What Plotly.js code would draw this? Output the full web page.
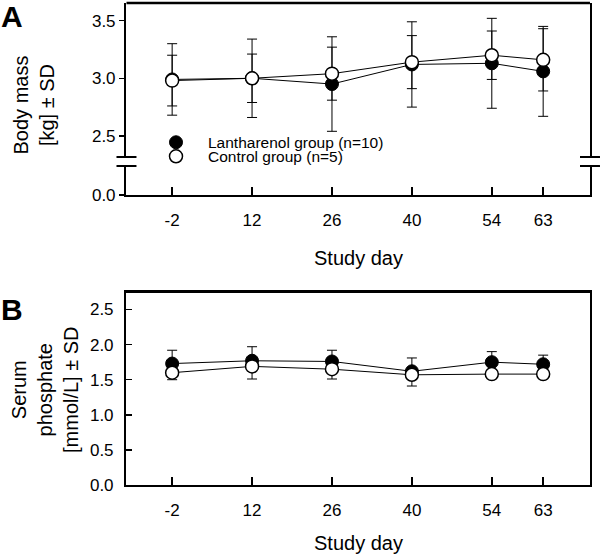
<!DOCTYPE html>
<html>
<head>
<meta charset="utf-8">
<script src="https://cdn.plot.ly/plotly-3.0.1.min.js"></script>
<style>html,body{margin:0;padding:0;background:#fff;}#chart{width:600px;height:556px;}</style>
</head>
<body>
<div id="chart"></div>
<script>
// ---- data ----
var days = [-2, 12, 26, 40, 54, 63];
var dayLabels = ["-2", "12", "26", "40", "54", "63"];

var massLan   = [2.99, 3.00, 2.95, 3.12, 3.13, 3.06];
var massLanSD = [0.31, 0.34, 0.41, 0.37, 0.39, 0.39];
var massCtl   = [2.98, 3.00, 3.04, 3.14, 3.20, 3.16];
var massCtlSD = [0.22, 0.21, 0.23, 0.23, 0.21, 0.27];

var phosLan   = [1.73, 1.77, 1.76, 1.62, 1.75, 1.72];
var phosLanSD = [0.19, 0.20, 0.16, 0.19, 0.15, 0.13];
var phosCtl   = [1.60, 1.69, 1.65, 1.57, 1.58, 1.58];
var phosCtlSD = [0.10, 0.18, 0.14, 0.16, 0.05, 0.05];
var noSD      = [0, 0, 0, 0, 0, 0];

var massTicksUpper = [2.5, 3.0, 3.5];
var massTicksLower = [0.0];
var phosTicks = [0.0, 0.5, 1.0, 1.5, 2.0, 2.5];

var nameLan = "Lantharenol group (n=10)";
var nameCtl = "Control group (n=5)";

// ---- styling ----
var FONT = "Liberation Sans, Arial, sans-serif";
var LW = 2.5;
var xd = [0.2108, 0.9833];

function lineTrace(x, y, xa, ya) {
  return {x: x, y: y, xaxis: xa, yaxis: ya, mode: "lines", showlegend: false,
          hoverinfo: "skip", line: {color: "#000", width: 1}};
}
function markTrace(x, y, err, xa, ya, filled, legend, showleg, name) {
  return {x: x, y: y, xaxis: xa, yaxis: ya, mode: "markers", name: name,
          legend: legend, showlegend: showleg,
          marker: {size: 13, color: filled ? "#000" : "#fff",
                   line: {color: "#000", width: filled ? 1 : 1.5}},
          error_y: err};
}
function symErr(sd) { return {type: "data", array: sd, visible: true, color: "#000", thickness: 1, width: 5}; }
function upErr(sd) { return {type: "data", symmetric: false, array: sd, arrayminus: noSD, visible: true, color: "#000", thickness: 1, width: 5}; }
function downErr(sd) { return {type: "data", symmetric: false, array: noSD, arrayminus: sd, visible: true, color: "#000", thickness: 1, width: 5}; }

var traces = [
  // empty trace so the lower (broken) y-axis segment of panel A gets its own subplot
  {x: [], y: [], xaxis: "x", yaxis: "y2", mode: "markers", showlegend: false, hoverinfo: "skip"},
  lineTrace(days, massLan, "x", "y"),
  lineTrace(days, massCtl, "x", "y"),
  markTrace(days, massLan, symErr(massLanSD), "x", "y", true, "legend", true, nameLan),
  markTrace(days, massCtl, symErr(massCtlSD), "x", "y", false, "legend2", true, nameCtl),
  lineTrace(days, phosLan, "x2", "y3"),
  lineTrace(days, phosCtl, "x2", "y3"),
  markTrace(days, phosLan, upErr(phosLanSD), "x2", "y3", true, "legend", false, nameLan),
  markTrace(days, phosCtl, downErr(phosCtlSD), "x2", "y3", false, "legend2", false, nameCtl)
];

var tickFont = {family: FONT, size: 17, color: "#000"};
var baseAxis = {showgrid: false, zeroline: false, showline: true, linecolor: "#000",
                linewidth: LW, tickcolor: "#000", tickwidth: 1.5, tickfont: tickFont,
                automargin: false, fixedrange: true};
function ax(o) { return Object.assign({}, baseAxis, o); }

var yUpper = [0.7176, 0.9946];
var yLower = [0.6493, 0.7014];
var yB = [0.1277, 0.4736];

var layout = {
  width: 600, height: 556,
  margin: {l: 0, r: 0, t: 0, b: 0},
  paper_bgcolor: "#fff", plot_bgcolor: "#fff",
  font: {family: FONT, color: "#000"},
  xaxis: ax({domain: xd, range: [-10, 71.2], anchor: "y2", tickmode: "array",
             tickvals: days, ticktext: dayLabels, ticks: "inside", ticklen: 8,
             ticklabelstandoff: 8}),
  yaxis: ax({domain: yUpper, range: [2.317, 3.653], anchor: "x", tickmode: "array",
             tickvals: massTicksUpper, tickformat: ".1f", ticks: "outside", ticklen: 5,
             mirror: true}),
  yaxis2: ax({domain: yLower, range: [0, 0.25], anchor: "x", tickmode: "array",
              tickvals: massTicksLower, tickformat: ".1f", ticks: "outside", ticklen: 5,
              mirror: true}),
  xaxis2: ax({domain: xd, range: [-10, 71.2], anchor: "y3", tickmode: "array",
              tickvals: days, ticktext: dayLabels, ticks: "inside", ticklen: 8,
              mirror: true, ticklabelstandoff: 8}),
  yaxis3: ax({domain: yB, range: [0, 2.74], anchor: "x2", tickmode: "array",
              tickvals: phosTicks, tickformat: ".1f", ticks: "inside", ticklen: 6,
              mirror: true, ticklabelstandoff: 7}),
  legend: {x: 144/600, xanchor: "left", y: 1 - 142.7/556, yanchor: "middle",
           bgcolor: "rgba(0,0,0,0)", borderwidth: 0, itemwidth: 54,
           font: {family: FONT, size: 15.5, color: "#000"}},
  legend2: {x: 144/600, xanchor: "left", y: 1 - 156.7/556, yanchor: "middle",
            bgcolor: "rgba(0,0,0,0)", borderwidth: 0, itemwidth: 54,
            font: {family: FONT, size: 15.5, color: "#000"}},
  shapes: [
    // top frame line of panel A
    {type: "line", xref: "x domain", yref: "y domain", x0: 0, x1: 1, y0: 1, y1: 1,
     line: {color: "#000", width: LW}},
    // axis-break marks
    {type: "line", xref: "paper", yref: "paper", x0: xd[0] - 10/600, x1: xd[0] + 10/600, y0: yUpper[0], y1: yUpper[0], line: {color: "#000", width: 2}},
    {type: "line", xref: "paper", yref: "paper", x0: xd[0] - 10/600, x1: xd[0] + 10/600, y0: yLower[1], y1: yLower[1], line: {color: "#000", width: 2}},
    {type: "line", xref: "paper", yref: "paper", x0: xd[1] - 10/600, x1: xd[1] + 10/600, y0: yUpper[0], y1: yUpper[0], line: {color: "#000", width: 2}},
    {type: "line", xref: "paper", yref: "paper", x0: xd[1] - 10/600, x1: xd[1] + 10/600, y0: yLower[1], y1: yLower[1], line: {color: "#000", width: 2}}
  ],
  annotations: [
    {text: "<b>A</b>", xref: "paper", yref: "paper", x: 12/600, y: 1 - 16/556,
     xanchor: "center", yanchor: "middle", showarrow: false, font: {family: FONT, size: 30}},
    {text: "<b>B</b>", xref: "paper", yref: "paper", x: 12/600, y: 1 - 309/556,
     xanchor: "center", yanchor: "middle", showarrow: false, font: {family: FONT, size: 30}},
    {text: "Body mass<br>[kg] ± SD", xref: "paper", yref: "paper", x: 33.5/600, y: 1 - 105/556,
     xanchor: "center", yanchor: "middle", textangle: -90, showarrow: false,
     font: {family: FONT, size: 20}},
    {text: "Serum<br>phosphate<br>[mmol/L] ± SD", xref: "paper", yref: "paper", x: 45/600, y: 1 - 390/556,
     xanchor: "center", yanchor: "middle", textangle: -90, showarrow: false,
     font: {family: FONT, size: 20}},
    {text: "Study day", xref: "paper", yref: "paper", x: 358/600, y: 1 - 258/556,
     xanchor: "center", yanchor: "middle", showarrow: false, font: {family: FONT, size: 20}},
    {text: "Study day", xref: "paper", yref: "paper", x: 358/600, y: 1 - 543/556,
     xanchor: "center", yanchor: "middle", showarrow: false, font: {family: FONT, size: 20}}
  ]
};

Plotly.newPlot("chart", traces, layout, {staticPlot: true, displayModeBar: false});
</script>
</body>
</html>
